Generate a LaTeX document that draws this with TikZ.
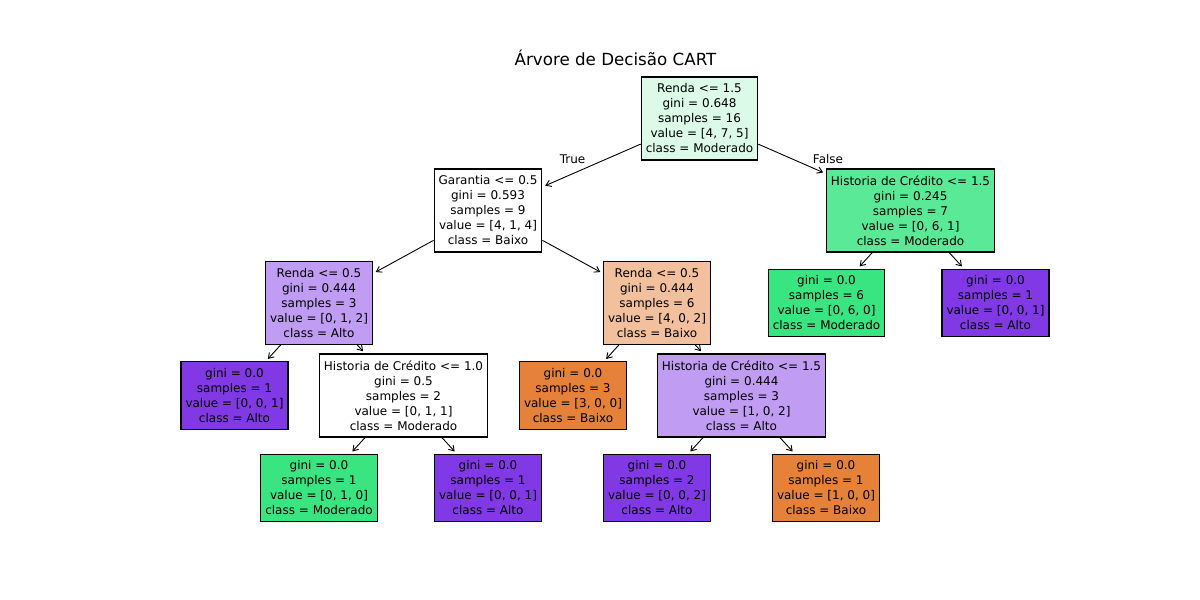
\documentclass[tikz,border=0pt]{standalone}
\usepackage{fontspec}
\setmainfont{DejaVu Sans}
\usetikzlibrary{arrows.meta}
\definecolor{rootc}{HTML}{DBFAE8}
\definecolor{lpurple}{HTML}{C09CF2}
\definecolor{lorange}{HTML}{F2C09C}
\definecolor{mgreen}{HTML}{5AE996}
\definecolor{fgreen}{HTML}{39E581}
\definecolor{fpurple}{HTML}{8139E5}
\definecolor{forange}{HTML}{E58139}
\tikzset{
  treebox/.style={draw=black, line width=1.1pt, align=center, inner xsep=4.5pt, inner ysep=0pt,
    font=\fontsize{12}{15}\selectfont},
  splitbox/.style={treebox, minimum height=83pt},
  leafbox/.style={treebox, minimum height=67.5pt},
  edge/.style={-{Straight Barb[length=5pt,width=6.5pt]}, line width=0.9pt, shorten >=3pt},
  lbl/.style={font=\fontsize{12}{15}\selectfont, inner sep=0pt}
}
\begin{document}
\begin{tikzpicture}[x=1pt,y=-1pt]
\useasboundingbox (0,0) rectangle (1200,600);
\node[font=\fontsize{16.7}{20}\selectfont] (title) at (615.5,58) {Árvore de Decisão CART};

\node[splitbox, fill=rootc] (root) at (699.5,118.5) {Renda <= 1.5\\gini = 0.648\\samples = 16\\value = [4, 7, 5]\\class = Moderado};
\node[splitbox, fill=white] (gar) at (488,210.5) {Garantia <= 0.5\\gini = 0.593\\samples = 9\\value = [4, 1, 4]\\class = Baixo};
\node[splitbox, fill=mgreen] (hcr) at (910.5,210.5) {Historia de Crédito <= 1.5\\gini = 0.245\\samples = 7\\value = [0, 6, 1]\\class = Moderado};
\node[splitbox, fill=lpurple] (rp) at (319,303) {Renda <= 0.5\\gini = 0.444\\samples = 3\\value = [0, 1, 2]\\class = Alto};
\node[splitbox, fill=lorange] (ro) at (657,303) {Renda <= 0.5\\gini = 0.444\\samples = 6\\value = [4, 0, 2]\\class = Baixo};
\node[leafbox, fill=fgreen] (lg6) at (826.5,303) {gini = 0.0\\samples = 6\\value = [0, 6, 0]\\class = Moderado};
\node[leafbox, fill=fpurple] (lp1) at (995.5,303) {gini = 0.0\\samples = 1\\value = [0, 0, 1]\\class = Alto};
\node[leafbox, fill=fpurple] (lp1b) at (234.5,395.5) {gini = 0.0\\samples = 1\\value = [0, 0, 1]\\class = Alto};
\node[splitbox, fill=white] (hc10) at (403.5,395.5) {Historia de Crédito <= 1.0\\gini = 0.5\\samples = 2\\value = [0, 1, 1]\\class = Moderado};
\node[leafbox, fill=forange] (lo3) at (573,395.5) {gini = 0.0\\samples = 3\\value = [3, 0, 0]\\class = Baixo};
\node[splitbox, fill=lpurple] (hc15) at (741.5,395.5) {Historia de Crédito <= 1.5\\gini = 0.444\\samples = 3\\value = [1, 0, 2]\\class = Alto};
\node[leafbox, fill=fgreen] (lg1) at (319,488) {gini = 0.0\\samples = 1\\value = [0, 1, 0]\\class = Moderado};
\node[leafbox, fill=fpurple] (lp1c) at (488,488) {gini = 0.0\\samples = 1\\value = [0, 0, 1]\\class = Alto};
\node[leafbox, fill=fpurple] (lp2) at (657,488) {gini = 0.0\\samples = 2\\value = [0, 0, 2]\\class = Alto};
\node[leafbox, fill=forange] (lo1) at (826,488) {gini = 0.0\\samples = 1\\value = [1, 0, 0]\\class = Baixo};

\draw[edge] (root) -- (gar);
\draw[edge] (root) -- (hcr);
\draw[edge] (gar) -- (rp);
\draw[edge] (gar) -- (ro);
\draw[edge] (hcr) -- (lg6);
\draw[edge] (hcr) -- (lp1);
\draw[edge] (rp) -- (lp1b);
\draw[edge] (rp) -- (hc10);
\draw[edge] (ro) -- (lo3);
\draw[edge] (ro) -- (hc15);
\draw[edge] (hc10) -- (lg1);
\draw[edge] (hc10) -- (lp1c);
\draw[edge] (hc15) -- (lp2);
\draw[edge] (hc15) -- (lo1);

\node[lbl] (ltrue) at (572.5,159.5) {True};
\node[lbl] (lfalse) at (828,159.5) {False};
\end{tikzpicture}
\end{document}
